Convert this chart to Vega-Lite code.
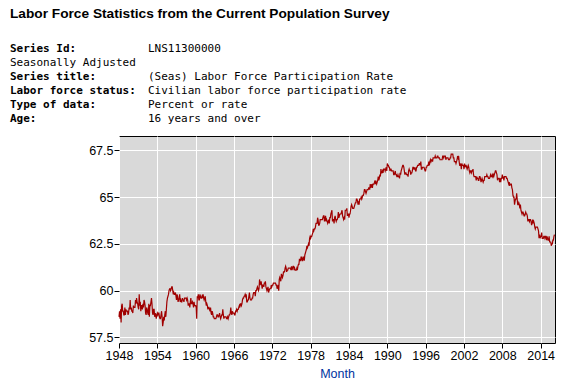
{
"$schema":"https://vega.github.io/schema/vega-lite/v6.json",
"autosize":{"type":"pad"},
"padding":{"left":10,"top":7,"right":5,"bottom":4},
"background":"white",
"title":{"text":"Labor Force Statistics from the Current Population Survey","anchor":"start","frame":"bounds","font":"Liberation Sans","fontSize":13.7,"fontWeight":"bold","color":"black","offset":22},
"bounds":"flush",
"spacing":17,
"resolve":{"scale":{"x":"independent","y":"independent"}},
"config":{"view":{"stroke":null},
"axis":{"labelFont":"Liberation Sans","labelFontSize":12.5,"labelColor":"black","tickColor":"black","tickSize":5,"domain":false,"gridColor":"white","gridWidth":1,"gridOpacity":1}},
"datasets":{
"meta":[
{"line":1,"bold":"Series Id:","plain":"LNS11300000","left":""},
{"line":2,"bold":"","plain":"","left":"Seasonally Adjusted"},
{"line":3,"bold":"Series title:","plain":"(Seas) Labor Force Participation Rate","left":""},
{"line":4,"bold":"Labor force status:","plain":"Civilian labor force participation rate","left":""},
{"line":5,"bold":"Type of data:","plain":"Percent or rate","left":""},
{"line":6,"bold":"Age:","plain":"16 years and over","left":""}
],
"lfpr":[
{"d":"1948-01","v":58.6},{"d":"1948-02","v":58.9},{"d":"1948-03","v":58.5},{"d":"1948-04","v":59.0},{"d":"1948-05","v":58.3},{"d":"1948-06","v":59.2},{"d":"1948-07","v":59.3},{"d":"1948-08","v":58.9},{"d":"1948-09","v":58.9},{"d":"1948-10","v":58.7},{"d":"1948-11","v":58.7},{"d":"1948-12","v":59.1},
{"d":"1949-01","v":58.7},{"d":"1949-02","v":59.0},{"d":"1949-03","v":58.9},{"d":"1949-04","v":58.9},{"d":"1949-05","v":58.9},{"d":"1949-06","v":58.7},{"d":"1949-07","v":58.8},{"d":"1949-08","v":59.1},{"d":"1949-09","v":59.0},{"d":"1949-10","v":59.5},{"d":"1949-11","v":59.0},{"d":"1949-12","v":59.1},
{"d":"1950-01","v":58.9},{"d":"1950-02","v":58.9},{"d":"1950-03","v":58.8},{"d":"1950-04","v":59.2},{"d":"1950-05","v":59.1},{"d":"1950-06","v":59.1},{"d":"1950-07","v":59.1},{"d":"1950-08","v":59.5},{"d":"1950-09","v":59.3},{"d":"1950-10","v":59.6},{"d":"1950-11","v":59.4},{"d":"1950-12","v":59.3},
{"d":"1951-01","v":59.1},{"d":"1951-02","v":59.0},{"d":"1951-03","v":59.8},{"d":"1951-04","v":59.2},{"d":"1951-05","v":59.4},{"d":"1951-06","v":58.9},{"d":"1951-07","v":59.2},{"d":"1951-08","v":59.2},{"d":"1951-09","v":59.0},{"d":"1951-10","v":59.3},{"d":"1951-11","v":59.1},{"d":"1951-12","v":59.5},
{"d":"1952-01","v":59.4},{"d":"1952-02","v":59.2},{"d":"1952-03","v":58.8},{"d":"1952-04","v":58.7},{"d":"1952-05","v":59.1},{"d":"1952-06","v":59.0},{"d":"1952-07","v":58.8},{"d":"1952-08","v":58.7},{"d":"1952-09","v":59.3},{"d":"1952-10","v":58.6},{"d":"1952-11","v":59.2},{"d":"1952-12","v":59.2},
{"d":"1953-01","v":59.4},{"d":"1953-02","v":59.6},{"d":"1953-03","v":59.3},{"d":"1953-04","v":58.8},{"d":"1953-05","v":58.7},{"d":"1953-06","v":59.0},{"d":"1953-07","v":59.0},{"d":"1953-08","v":58.6},{"d":"1953-09","v":58.8},{"d":"1953-10","v":58.7},{"d":"1953-11","v":58.5},{"d":"1953-12","v":58.7},
{"d":"1954-01","v":58.8},{"d":"1954-02","v":58.7},{"d":"1954-03","v":58.8},{"d":"1954-04","v":58.8},{"d":"1954-05","v":58.6},{"d":"1954-06","v":58.5},{"d":"1954-07","v":58.5},{"d":"1954-08","v":58.7},{"d":"1954-09","v":58.9},{"d":"1954-10","v":58.6},{"d":"1954-11","v":58.1},{"d":"1954-12","v":58.3},
{"d":"1955-01","v":58.6},{"d":"1955-02","v":58.4},{"d":"1955-03","v":58.7},{"d":"1955-04","v":58.9},{"d":"1955-05","v":58.6},{"d":"1955-06","v":59.0},{"d":"1955-07","v":59.4},{"d":"1955-08","v":59.6},{"d":"1955-09","v":59.7},{"d":"1955-10","v":59.8},{"d":"1955-11","v":60.0},{"d":"1955-12","v":60.1},
{"d":"1956-01","v":60.1},{"d":"1956-02","v":60.0},{"d":"1956-03","v":60.1},{"d":"1956-04","v":60.2},{"d":"1956-05","v":60.2},{"d":"1956-06","v":60.0},{"d":"1956-07","v":59.8},{"d":"1956-08","v":59.9},{"d":"1956-09","v":59.8},{"d":"1956-10","v":59.8},{"d":"1956-11","v":59.9},{"d":"1956-12","v":59.7},
{"d":"1957-01","v":59.5},{"d":"1957-02","v":59.8},{"d":"1957-03","v":59.7},{"d":"1957-04","v":59.4},{"d":"1957-05","v":59.5},{"d":"1957-06","v":59.6},{"d":"1957-07","v":59.8},{"d":"1957-08","v":59.4},{"d":"1957-09","v":59.5},{"d":"1957-10","v":59.4},{"d":"1957-11","v":59.4},{"d":"1957-12","v":59.6},
{"d":"1958-01","v":59.5},{"d":"1958-02","v":59.5},{"d":"1958-03","v":59.4},{"d":"1958-04","v":59.6},{"d":"1958-05","v":59.6},{"d":"1958-06","v":59.6},{"d":"1958-07","v":59.6},{"d":"1958-08","v":59.5},{"d":"1958-09","v":59.6},{"d":"1958-10","v":59.5},{"d":"1958-11","v":59.2},{"d":"1958-12","v":59.3},
{"d":"1959-01","v":59.3},{"d":"1959-02","v":59.1},{"d":"1959-03","v":59.4},{"d":"1959-04","v":59.6},{"d":"1959-05","v":59.3},{"d":"1959-06","v":59.3},{"d":"1959-07","v":59.4},{"d":"1959-08","v":59.3},{"d":"1959-09","v":59.1},{"d":"1959-10","v":59.4},{"d":"1959-11","v":59.2},{"d":"1959-12","v":59.2},
{"d":"1960-01","v":59.2},{"d":"1960-02","v":59.1},{"d":"1960-03","v":58.5},{"d":"1960-04","v":59.7},{"d":"1960-05","v":59.6},{"d":"1960-06","v":59.8},{"d":"1960-07","v":59.5},{"d":"1960-08","v":59.5},{"d":"1960-09","v":59.8},{"d":"1960-10","v":59.7},{"d":"1960-11","v":59.6},{"d":"1960-12","v":59.6},
{"d":"1961-01","v":59.7},{"d":"1961-02","v":59.6},{"d":"1961-03","v":59.8},{"d":"1961-04","v":59.6},{"d":"1961-05","v":59.5},{"d":"1961-06","v":59.6},{"d":"1961-07","v":59.7},{"d":"1961-08","v":59.4},{"d":"1961-09","v":59.2},{"d":"1961-10","v":59.3},{"d":"1961-11","v":59.2},{"d":"1961-12","v":59.0},
{"d":"1962-01","v":59.1},{"d":"1962-02","v":59.1},{"d":"1962-03","v":59.0},{"d":"1962-04","v":58.9},{"d":"1962-05","v":59.1},{"d":"1962-06","v":58.8},{"d":"1962-07","v":58.7},{"d":"1962-08","v":58.9},{"d":"1962-09","v":58.8},{"d":"1962-10","v":58.6},{"d":"1962-11","v":58.6},{"d":"1962-12","v":58.5},
{"d":"1963-01","v":58.5},{"d":"1963-02","v":58.5},{"d":"1963-03","v":58.5},{"d":"1963-04","v":58.6},{"d":"1963-05","v":58.7},{"d":"1963-06","v":58.7},{"d":"1963-07","v":58.6},{"d":"1963-08","v":58.6},{"d":"1963-09","v":58.7},{"d":"1963-10","v":58.8},{"d":"1963-11","v":58.6},{"d":"1963-12","v":58.5},
{"d":"1964-01","v":58.6},{"d":"1964-02","v":58.7},{"d":"1964-03","v":58.7},{"d":"1964-04","v":59.0},{"d":"1964-05","v":58.7},{"d":"1964-06","v":58.5},{"d":"1964-07","v":58.6},{"d":"1964-08","v":58.6},{"d":"1964-09","v":58.6},{"d":"1964-10","v":58.6},{"d":"1964-11","v":58.5},{"d":"1964-12","v":58.5},
{"d":"1965-01","v":58.6},{"d":"1965-02","v":58.5},{"d":"1965-03","v":58.6},{"d":"1965-04","v":58.7},{"d":"1965-05","v":58.7},{"d":"1965-06","v":58.8},{"d":"1965-07","v":59.1},{"d":"1965-08","v":58.8},{"d":"1965-09","v":58.7},{"d":"1965-10","v":58.9},{"d":"1965-11","v":58.8},{"d":"1965-12","v":58.8},
{"d":"1966-01","v":58.8},{"d":"1966-02","v":58.7},{"d":"1966-03","v":58.7},{"d":"1966-04","v":58.9},{"d":"1966-05","v":58.9},{"d":"1966-06","v":59.0},{"d":"1966-07","v":58.9},{"d":"1966-08","v":59.0},{"d":"1966-09","v":59.0},{"d":"1966-10","v":59.1},{"d":"1966-11","v":59.2},{"d":"1966-12","v":59.1},
{"d":"1967-01","v":59.3},{"d":"1967-02","v":59.3},{"d":"1967-03","v":59.2},{"d":"1967-04","v":59.3},{"d":"1967-05","v":59.5},{"d":"1967-06","v":59.6},{"d":"1967-07","v":59.6},{"d":"1967-08","v":59.7},{"d":"1967-09","v":59.7},{"d":"1967-10","v":59.8},{"d":"1967-11","v":59.7},{"d":"1967-12","v":59.8},
{"d":"1968-01","v":59.4},{"d":"1968-02","v":59.4},{"d":"1968-03","v":59.5},{"d":"1968-04","v":59.5},{"d":"1968-05","v":59.7},{"d":"1968-06","v":59.9},{"d":"1968-07","v":59.6},{"d":"1968-08","v":59.5},{"d":"1968-09","v":59.5},{"d":"1968-10","v":59.5},{"d":"1968-11","v":59.6},{"d":"1968-12","v":59.6},
{"d":"1969-01","v":59.8},{"d":"1969-02","v":59.9},{"d":"1969-03","v":59.9},{"d":"1969-04","v":59.9},{"d":"1969-05","v":59.7},{"d":"1969-06","v":60.0},{"d":"1969-07","v":60.0},{"d":"1969-08","v":60.1},{"d":"1969-09","v":60.2},{"d":"1969-10","v":60.1},{"d":"1969-11","v":60.0},{"d":"1969-12","v":60.1},
{"d":"1970-01","v":60.6},{"d":"1970-02","v":60.3},{"d":"1970-03","v":60.4},{"d":"1970-04","v":60.5},{"d":"1970-05","v":60.3},{"d":"1970-06","v":60.1},{"d":"1970-07","v":60.3},{"d":"1970-08","v":60.3},{"d":"1970-09","v":60.2},{"d":"1970-10","v":60.4},{"d":"1970-11","v":60.4},{"d":"1970-12","v":60.5},
{"d":"1971-01","v":60.2},{"d":"1971-02","v":60.1},{"d":"1971-03","v":60.0},{"d":"1971-04","v":60.1},{"d":"1971-05","v":60.2},{"d":"1971-06","v":59.9},{"d":"1971-07","v":60.0},{"d":"1971-08","v":60.1},{"d":"1971-09","v":60.1},{"d":"1971-10","v":60.1},{"d":"1971-11","v":60.3},{"d":"1971-12","v":60.2},
{"d":"1972-01","v":60.3},{"d":"1972-02","v":60.3},{"d":"1972-03","v":60.4},{"d":"1972-04","v":60.4},{"d":"1972-05","v":60.4},{"d":"1972-06","v":60.4},{"d":"1972-07","v":60.4},{"d":"1972-08","v":60.3},{"d":"1972-09","v":60.3},{"d":"1972-10","v":60.1},{"d":"1972-11","v":60.2},{"d":"1972-12","v":60.3},
{"d":"1973-01","v":60.0},{"d":"1973-02","v":60.6},{"d":"1973-03","v":60.7},{"d":"1973-04","v":60.6},{"d":"1973-05","v":60.5},{"d":"1973-06","v":60.9},{"d":"1973-07","v":60.8},{"d":"1973-08","v":60.7},{"d":"1973-09","v":60.8},{"d":"1973-10","v":61.0},{"d":"1973-11","v":61.0},{"d":"1973-12","v":61.0},
{"d":"1974-01","v":61.2},{"d":"1974-02","v":61.3},{"d":"1974-03","v":61.2},{"d":"1974-04","v":61.0},{"d":"1974-05","v":61.1},{"d":"1974-06","v":61.1},{"d":"1974-07","v":61.2},{"d":"1974-08","v":61.2},{"d":"1974-09","v":61.2},{"d":"1974-10","v":61.2},{"d":"1974-11","v":61.2},{"d":"1974-12","v":61.1},
{"d":"1975-01","v":61.3},{"d":"1975-02","v":61.1},{"d":"1975-03","v":61.2},{"d":"1975-04","v":61.3},{"d":"1975-05","v":61.3},{"d":"1975-06","v":61.1},{"d":"1975-07","v":61.2},{"d":"1975-08","v":61.1},{"d":"1975-09","v":61.1},{"d":"1975-10","v":61.1},{"d":"1975-11","v":61.2},{"d":"1975-12","v":61.1},
{"d":"1976-01","v":61.3},{"d":"1976-02","v":61.4},{"d":"1976-03","v":61.4},{"d":"1976-04","v":61.7},{"d":"1976-05","v":61.6},{"d":"1976-06","v":61.6},{"d":"1976-07","v":61.8},{"d":"1976-08","v":61.8},{"d":"1976-09","v":61.6},{"d":"1976-10","v":61.6},{"d":"1976-11","v":61.8},{"d":"1976-12","v":61.8},
{"d":"1977-01","v":61.6},{"d":"1977-02","v":61.9},{"d":"1977-03","v":62.0},{"d":"1977-04","v":62.1},{"d":"1977-05","v":62.2},{"d":"1977-06","v":62.4},{"d":"1977-07","v":62.3},{"d":"1977-08","v":62.4},{"d":"1977-09","v":62.5},{"d":"1977-10","v":62.4},{"d":"1977-11","v":62.8},{"d":"1977-12","v":62.9},
{"d":"1978-01","v":62.8},{"d":"1978-02","v":62.9},{"d":"1978-03","v":62.9},{"d":"1978-04","v":63.0},{"d":"1978-05","v":63.1},{"d":"1978-06","v":63.3},{"d":"1978-07","v":63.2},{"d":"1978-08","v":63.3},{"d":"1978-09","v":63.3},{"d":"1978-10","v":63.4},{"d":"1978-11","v":63.6},{"d":"1978-12","v":63.6},
{"d":"1979-01","v":63.6},{"d":"1979-02","v":63.9},{"d":"1979-03","v":63.8},{"d":"1979-04","v":63.5},{"d":"1979-05","v":63.5},{"d":"1979-06","v":63.6},{"d":"1979-07","v":63.8},{"d":"1979-08","v":63.8},{"d":"1979-09","v":63.8},{"d":"1979-10","v":63.8},{"d":"1979-11","v":63.8},{"d":"1979-12","v":63.9},
{"d":"1980-01","v":64.0},{"d":"1980-02","v":64.0},{"d":"1980-03","v":63.7},{"d":"1980-04","v":63.8},{"d":"1980-05","v":64.0},{"d":"1980-06","v":63.7},{"d":"1980-07","v":63.8},{"d":"1980-08","v":63.7},{"d":"1980-09","v":63.6},{"d":"1980-10","v":63.7},{"d":"1980-11","v":63.8},{"d":"1980-12","v":63.6},
{"d":"1981-01","v":63.9},{"d":"1981-02","v":63.9},{"d":"1981-03","v":64.1},{"d":"1981-04","v":64.2},{"d":"1981-05","v":64.3},{"d":"1981-06","v":63.7},{"d":"1981-07","v":63.8},{"d":"1981-08","v":63.8},{"d":"1981-09","v":63.6},{"d":"1981-10","v":63.9},{"d":"1981-11","v":64.0},{"d":"1981-12","v":63.8},
{"d":"1982-01","v":63.7},{"d":"1982-02","v":63.8},{"d":"1982-03","v":63.8},{"d":"1982-04","v":63.9},{"d":"1982-05","v":64.2},{"d":"1982-06","v":63.9},{"d":"1982-07","v":64.0},{"d":"1982-08","v":64.1},{"d":"1982-09","v":64.1},{"d":"1982-10","v":64.1},{"d":"1982-11","v":64.2},{"d":"1982-12","v":64.3},
{"d":"1983-01","v":64.0},{"d":"1983-02","v":63.9},{"d":"1983-03","v":63.8},{"d":"1983-04","v":63.9},{"d":"1983-05","v":63.8},{"d":"1983-06","v":64.3},{"d":"1983-07","v":64.3},{"d":"1983-08","v":64.3},{"d":"1983-09","v":64.4},{"d":"1983-10","v":64.0},{"d":"1983-11","v":64.1},{"d":"1983-12","v":64.1},
{"d":"1984-01","v":63.9},{"d":"1984-02","v":64.1},{"d":"1984-03","v":64.1},{"d":"1984-04","v":64.3},{"d":"1984-05","v":64.5},{"d":"1984-06","v":64.6},{"d":"1984-07","v":64.5},{"d":"1984-08","v":64.4},{"d":"1984-09","v":64.4},{"d":"1984-10","v":64.4},{"d":"1984-11","v":64.5},{"d":"1984-12","v":64.6},
{"d":"1985-01","v":64.7},{"d":"1985-02","v":64.7},{"d":"1985-03","v":64.9},{"d":"1985-04","v":64.9},{"d":"1985-05","v":64.8},{"d":"1985-06","v":64.6},{"d":"1985-07","v":64.7},{"d":"1985-08","v":64.6},{"d":"1985-09","v":64.9},{"d":"1985-10","v":64.9},{"d":"1985-11","v":64.9},{"d":"1985-12","v":65.0},
{"d":"1986-01","v":64.9},{"d":"1986-02","v":65.0},{"d":"1986-03","v":65.1},{"d":"1986-04","v":65.1},{"d":"1986-05","v":65.2},{"d":"1986-06","v":65.4},{"d":"1986-07","v":65.4},{"d":"1986-08","v":65.3},{"d":"1986-09","v":65.2},{"d":"1986-10","v":65.3},{"d":"1986-11","v":65.4},{"d":"1986-12","v":65.4},
{"d":"1987-01","v":65.4},{"d":"1987-02","v":65.5},{"d":"1987-03","v":65.5},{"d":"1987-04","v":65.4},{"d":"1987-05","v":65.7},{"d":"1987-06","v":65.5},{"d":"1987-07","v":65.6},{"d":"1987-08","v":65.7},{"d":"1987-09","v":65.5},{"d":"1987-10","v":65.7},{"d":"1987-11","v":65.7},{"d":"1987-12","v":65.7},
{"d":"1988-01","v":65.8},{"d":"1988-02","v":65.9},{"d":"1988-03","v":65.7},{"d":"1988-04","v":65.8},{"d":"1988-05","v":65.7},{"d":"1988-06","v":65.8},{"d":"1988-07","v":65.9},{"d":"1988-08","v":66.1},{"d":"1988-09","v":65.9},{"d":"1988-10","v":66.0},{"d":"1988-11","v":66.2},{"d":"1988-12","v":66.1},
{"d":"1989-01","v":66.5},{"d":"1989-02","v":66.3},{"d":"1989-03","v":66.3},{"d":"1989-04","v":66.4},{"d":"1989-05","v":66.3},{"d":"1989-06","v":66.5},{"d":"1989-07","v":66.5},{"d":"1989-08","v":66.5},{"d":"1989-09","v":66.4},{"d":"1989-10","v":66.5},{"d":"1989-11","v":66.6},{"d":"1989-12","v":66.4},
{"d":"1990-01","v":66.8},{"d":"1990-02","v":66.7},{"d":"1990-03","v":66.7},{"d":"1990-04","v":66.6},{"d":"1990-05","v":66.6},{"d":"1990-06","v":66.4},{"d":"1990-07","v":66.5},{"d":"1990-08","v":66.5},{"d":"1990-09","v":66.4},{"d":"1990-10","v":66.4},{"d":"1990-11","v":66.4},{"d":"1990-12","v":66.4},
{"d":"1991-01","v":66.2},{"d":"1991-02","v":66.2},{"d":"1991-03","v":66.3},{"d":"1991-04","v":66.4},{"d":"1991-05","v":66.2},{"d":"1991-06","v":66.2},{"d":"1991-07","v":66.1},{"d":"1991-08","v":66.1},{"d":"1991-09","v":66.2},{"d":"1991-10","v":66.1},{"d":"1991-11","v":66.1},{"d":"1991-12","v":66.0},
{"d":"1992-01","v":66.3},{"d":"1992-02","v":66.2},{"d":"1992-03","v":66.4},{"d":"1992-04","v":66.5},{"d":"1992-05","v":66.6},{"d":"1992-06","v":66.7},{"d":"1992-07","v":66.7},{"d":"1992-08","v":66.6},{"d":"1992-09","v":66.4},{"d":"1992-10","v":66.2},{"d":"1992-11","v":66.3},{"d":"1992-12","v":66.3},
{"d":"1993-01","v":66.2},{"d":"1993-02","v":66.2},{"d":"1993-03","v":66.2},{"d":"1993-04","v":66.1},{"d":"1993-05","v":66.4},{"d":"1993-06","v":66.5},{"d":"1993-07","v":66.4},{"d":"1993-08","v":66.4},{"d":"1993-09","v":66.2},{"d":"1993-10","v":66.3},{"d":"1993-11","v":66.3},{"d":"1993-12","v":66.4},
{"d":"1994-01","v":66.6},{"d":"1994-02","v":66.6},{"d":"1994-03","v":66.5},{"d":"1994-04","v":66.5},{"d":"1994-05","v":66.6},{"d":"1994-06","v":66.4},{"d":"1994-07","v":66.4},{"d":"1994-08","v":66.6},{"d":"1994-09","v":66.6},{"d":"1994-10","v":66.7},{"d":"1994-11","v":66.7},{"d":"1994-12","v":66.7},
{"d":"1995-01","v":66.8},{"d":"1995-02","v":66.8},{"d":"1995-03","v":66.7},{"d":"1995-04","v":66.9},{"d":"1995-05","v":66.5},{"d":"1995-06","v":66.5},{"d":"1995-07","v":66.6},{"d":"1995-08","v":66.6},{"d":"1995-09","v":66.6},{"d":"1995-10","v":66.6},{"d":"1995-11","v":66.5},{"d":"1995-12","v":66.4},
{"d":"1996-01","v":66.4},{"d":"1996-02","v":66.6},{"d":"1996-03","v":66.6},{"d":"1996-04","v":66.7},{"d":"1996-05","v":66.7},{"d":"1996-06","v":66.7},{"d":"1996-07","v":66.9},{"d":"1996-08","v":66.7},{"d":"1996-09","v":66.9},{"d":"1996-10","v":67.0},{"d":"1996-11","v":66.9},{"d":"1996-12","v":67.0},
{"d":"1997-01","v":67.0},{"d":"1997-02","v":66.9},{"d":"1997-03","v":67.1},{"d":"1997-04","v":67.1},{"d":"1997-05","v":67.1},{"d":"1997-06","v":67.1},{"d":"1997-07","v":67.2},{"d":"1997-08","v":67.1},{"d":"1997-09","v":67.1},{"d":"1997-10","v":67.1},{"d":"1997-11","v":67.2},{"d":"1997-12","v":67.2},
{"d":"1998-01","v":67.1},{"d":"1998-02","v":67.1},{"d":"1998-03","v":67.1},{"d":"1998-04","v":67.0},{"d":"1998-05","v":67.0},{"d":"1998-06","v":67.0},{"d":"1998-07","v":67.0},{"d":"1998-08","v":67.0},{"d":"1998-09","v":67.2},{"d":"1998-10","v":67.2},{"d":"1998-11","v":67.1},{"d":"1998-12","v":67.2},
{"d":"1999-01","v":67.2},{"d":"1999-02","v":67.2},{"d":"1999-03","v":67.0},{"d":"1999-04","v":67.1},{"d":"1999-05","v":67.1},{"d":"1999-06","v":67.1},{"d":"1999-07","v":67.1},{"d":"1999-08","v":67.0},{"d":"1999-09","v":67.0},{"d":"1999-10","v":67.0},{"d":"1999-11","v":67.1},{"d":"1999-12","v":67.1},
{"d":"2000-01","v":67.3},{"d":"2000-02","v":67.3},{"d":"2000-03","v":67.3},{"d":"2000-04","v":67.3},{"d":"2000-05","v":67.1},{"d":"2000-06","v":67.1},{"d":"2000-07","v":66.9},{"d":"2000-08","v":66.9},{"d":"2000-09","v":66.9},{"d":"2000-10","v":66.8},{"d":"2000-11","v":66.9},{"d":"2000-12","v":67.0},
{"d":"2001-01","v":67.2},{"d":"2001-02","v":67.1},{"d":"2001-03","v":67.2},{"d":"2001-04","v":66.9},{"d":"2001-05","v":66.7},{"d":"2001-06","v":66.7},{"d":"2001-07","v":66.8},{"d":"2001-08","v":66.5},{"d":"2001-09","v":66.8},{"d":"2001-10","v":66.7},{"d":"2001-11","v":66.7},{"d":"2001-12","v":66.7},
{"d":"2002-01","v":66.5},{"d":"2002-02","v":66.8},{"d":"2002-03","v":66.6},{"d":"2002-04","v":66.7},{"d":"2002-05","v":66.7},{"d":"2002-06","v":66.6},{"d":"2002-07","v":66.5},{"d":"2002-08","v":66.6},{"d":"2002-09","v":66.7},{"d":"2002-10","v":66.6},{"d":"2002-11","v":66.4},{"d":"2002-12","v":66.3},
{"d":"2003-01","v":66.4},{"d":"2003-02","v":66.4},{"d":"2003-03","v":66.3},{"d":"2003-04","v":66.4},{"d":"2003-05","v":66.4},{"d":"2003-06","v":66.5},{"d":"2003-07","v":66.2},{"d":"2003-08","v":66.1},{"d":"2003-09","v":66.1},{"d":"2003-10","v":66.1},{"d":"2003-11","v":66.1},{"d":"2003-12","v":65.9},
{"d":"2004-01","v":66.1},{"d":"2004-02","v":66.0},{"d":"2004-03","v":66.0},{"d":"2004-04","v":65.9},{"d":"2004-05","v":65.9},{"d":"2004-06","v":66.1},{"d":"2004-07","v":66.1},{"d":"2004-08","v":66.0},{"d":"2004-09","v":65.8},{"d":"2004-10","v":65.9},{"d":"2004-11","v":66.0},{"d":"2004-12","v":65.9},
{"d":"2005-01","v":65.8},{"d":"2005-02","v":65.9},{"d":"2005-03","v":65.9},{"d":"2005-04","v":66.1},{"d":"2005-05","v":66.1},{"d":"2005-06","v":66.1},{"d":"2005-07","v":66.1},{"d":"2005-08","v":66.2},{"d":"2005-09","v":66.1},{"d":"2005-10","v":66.1},{"d":"2005-11","v":66.0},{"d":"2005-12","v":66.0},
{"d":"2006-01","v":66.0},{"d":"2006-02","v":66.1},{"d":"2006-03","v":66.2},{"d":"2006-04","v":66.1},{"d":"2006-05","v":66.1},{"d":"2006-06","v":66.2},{"d":"2006-07","v":66.1},{"d":"2006-08","v":66.2},{"d":"2006-09","v":66.1},{"d":"2006-10","v":66.2},{"d":"2006-11","v":66.3},{"d":"2006-12","v":66.4},
{"d":"2007-01","v":66.4},{"d":"2007-02","v":66.3},{"d":"2007-03","v":66.2},{"d":"2007-04","v":65.9},{"d":"2007-05","v":66.0},{"d":"2007-06","v":66.0},{"d":"2007-07","v":66.0},{"d":"2007-08","v":65.8},{"d":"2007-09","v":66.0},{"d":"2007-10","v":65.8},{"d":"2007-11","v":66.0},{"d":"2007-12","v":66.0},
{"d":"2008-01","v":66.2},{"d":"2008-02","v":66.0},{"d":"2008-03","v":66.1},{"d":"2008-04","v":65.9},{"d":"2008-05","v":66.1},{"d":"2008-06","v":66.1},{"d":"2008-07","v":66.1},{"d":"2008-08","v":66.1},{"d":"2008-09","v":66.0},{"d":"2008-10","v":66.0},{"d":"2008-11","v":65.9},{"d":"2008-12","v":65.8},
{"d":"2009-01","v":65.7},{"d":"2009-02","v":65.8},{"d":"2009-03","v":65.6},{"d":"2009-04","v":65.7},{"d":"2009-05","v":65.7},{"d":"2009-06","v":65.7},{"d":"2009-07","v":65.5},{"d":"2009-08","v":65.4},{"d":"2009-09","v":65.1},{"d":"2009-10","v":65.0},{"d":"2009-11","v":65.0},{"d":"2009-12","v":64.6},
{"d":"2010-01","v":64.8},{"d":"2010-02","v":64.9},{"d":"2010-03","v":64.9},{"d":"2010-04","v":65.2},{"d":"2010-05","v":64.9},{"d":"2010-06","v":64.6},{"d":"2010-07","v":64.6},{"d":"2010-08","v":64.7},{"d":"2010-09","v":64.6},{"d":"2010-10","v":64.4},{"d":"2010-11","v":64.6},{"d":"2010-12","v":64.3},
{"d":"2011-01","v":64.2},{"d":"2011-02","v":64.1},{"d":"2011-03","v":64.2},{"d":"2011-04","v":64.2},{"d":"2011-05","v":64.1},{"d":"2011-06","v":64.0},{"d":"2011-07","v":64.0},{"d":"2011-08","v":64.1},{"d":"2011-09","v":64.2},{"d":"2011-10","v":64.1},{"d":"2011-11","v":64.1},{"d":"2011-12","v":64.0},
{"d":"2012-01","v":63.7},{"d":"2012-02","v":63.8},{"d":"2012-03","v":63.8},{"d":"2012-04","v":63.7},{"d":"2012-05","v":63.8},{"d":"2012-06","v":63.8},{"d":"2012-07","v":63.7},{"d":"2012-08","v":63.5},{"d":"2012-09","v":63.6},{"d":"2012-10","v":63.8},{"d":"2012-11","v":63.6},{"d":"2012-12","v":63.7},
{"d":"2013-01","v":63.6},{"d":"2013-02","v":63.4},{"d":"2013-03","v":63.3},{"d":"2013-04","v":63.4},{"d":"2013-05","v":63.4},{"d":"2013-06","v":63.4},{"d":"2013-07","v":63.4},{"d":"2013-08","v":63.3},{"d":"2013-09","v":63.2},{"d":"2013-10","v":62.8},{"d":"2013-11","v":63.0},{"d":"2013-12","v":62.8},
{"d":"2014-01","v":62.9},{"d":"2014-02","v":62.9},{"d":"2014-03","v":63.1},{"d":"2014-04","v":62.8},{"d":"2014-05","v":62.8},{"d":"2014-06","v":62.8},{"d":"2014-07","v":62.9},{"d":"2014-08","v":62.9},{"d":"2014-09","v":62.8},{"d":"2014-10","v":62.9},{"d":"2014-11","v":62.9},{"d":"2014-12","v":62.7},
{"d":"2015-01","v":62.9},{"d":"2015-02","v":62.8},{"d":"2015-03","v":62.7},{"d":"2015-04","v":62.7},{"d":"2015-05","v":62.9},{"d":"2015-06","v":62.6},{"d":"2015-07","v":62.6},{"d":"2015-08","v":62.6},{"d":"2015-09","v":62.4},{"d":"2015-10","v":62.5},{"d":"2015-11","v":62.5},{"d":"2015-12","v":62.7},
{"d":"2016-01","v":62.7},{"d":"2016-02","v":62.9},{"d":"2016-03","v":63.0}
]},
"vconcat":[
{"width":436,"height":70,
"data":{"name":"meta"},
"encoding":{"y":{"field":"line","type":"ordinal","axis":null,"scale":{"type":"point","padding":0}}},
"layer":[
{"mark":{"type":"text","align":"left","baseline":"middle","font":"DejaVu Sans Mono","fontSize":11,"fontWeight":"bold","color":"black"},
"encoding":{"x":{"datum":"label","type":"nominal","axis":null,"scale":{"type":"point","domain":["label","value"],"range":[-109,29],"padding":0}},"text":{"field":"bold"}}},
{"mark":{"type":"text","align":"left","baseline":"middle","font":"DejaVu Sans Mono","fontSize":11,"color":"black"},
"encoding":{"x":{"datum":"value","type":"nominal","axis":null},"text":{"field":"plain"}}},
{"mark":{"type":"text","align":"left","baseline":"middle","font":"DejaVu Sans Mono","fontSize":11,"color":"black"},
"encoding":{"x":{"datum":"label","type":"nominal","axis":null},"text":{"field":"left"}}}
]},
{"width":436,"height":207,
"data":{"name":"lfpr"},
"view":{"fill":"#d9d9d9","stroke":"black","strokeWidth":1},
"mark":{"type":"line","color":"#a00000","strokeWidth":1.2},
"encoding":{
"x":{"field":"d","type":"temporal","scale":{"domain":[{"year":1948,"month":1,"date":1},{"year":2016,"month":4,"date":1}],"nice":false},
"axis":{"title":"Month","titleColor":"#0033a0","titleFont":"Liberation Sans","titleFontSize":12.5,"titleFontWeight":"normal","titlePadding":6,"format":"%Y","labelPadding":1,"labelFlush":false,"labelOverlap":false,
"values":[{"year":1948},{"year":1954},{"year":1960},{"year":1966},{"year":1972},{"year":1978},{"year":1984},{"year":1990},{"year":1996},{"year":2002},{"year":2008},{"year":2014}]}},
"y":{"field":"v","type":"quantitative","scale":{"domain":[57.2,68.27],"zero":false,"nice":false},
"axis":{"title":null,"values":[57.5,60,62.5,65,67.5],"format":".3~g","labelPadding":1}}
}}
]
}
